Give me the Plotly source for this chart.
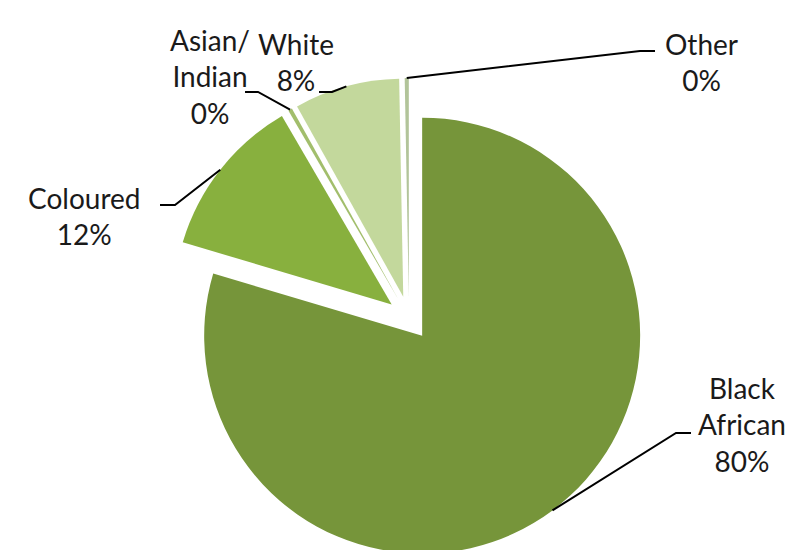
import math
import plotly.graph_objects as go

# ---- data ----
labels = ["Black African", "Coloured", "Asian/ Indian", "White", "Other"]
values = [79.6, 12.0, 0.3, 7.8, 0.3]
text_lines = [["Black", "African"], ["Coloured"], ["Asian/", "Indian"], ["White"], ["Other"]]
colors = ["#76953A", "#88B03E", "#A2BE6C", "#C3D89C", "#B2C49A"]

# ---- layout constants ----
W, H = 793, 550
CX, CY = 401, 310          # pie centre (px)
HALF = 240                 # half size of pie domain (px)
PULL = 0.101
FONT = dict(family="Lato, 'Open Sans', sans-serif", size=28, color="#1a1a1a")

# label placement: text centre, stub points (px)
label_cfg = {
    "Black African": dict(text=(734, 416), stub=[(683, 425), (668, 425)]),
    "Coloured":      dict(text=(76, 208),  stub=[(152, 197), (167, 197)]),
    "Asian/ Indian": dict(text=(202, 68),  stub=[(237, 84), (250, 84)]),
    "White":         dict(text=(288, 54),  stub=[(311, 84), (324, 84)]),
    "Other":         dict(text=(693, 54),  stub=[(647, 43), (632, 43)]),
}

dom_x = [(CX - HALF) / W, (CX + HALF) / W]
dom_y = [1 - (CY + HALF) / H, 1 - (CY - HALF) / H]

fig = go.Figure(go.Pie(
    labels=labels, values=values, sort=False, direction="clockwise", rotation=0,
    pull=[PULL] * len(values), textinfo="none", hoverinfo="label+percent",
    marker=dict(colors=colors, line=dict(width=0)),
    domain=dict(x=dom_x, y=dom_y), showlegend=False,
))

# leader lines computed from slice bisectors
total = sum(values)
r = HALF / (1 + PULL)
cum = 0.0
shapes, annotations = [], []
def px2paper(p):
    return p[0] / W, 1 - p[1] / H
for lab, v, lines in zip(labels, values, text_lines):
    mid = (cum + v / 2) / total * 2 * math.pi
    cum += v
    dist = r * (1 + PULL)
    arc = (CX + dist * math.sin(mid), CY - dist * math.cos(mid))
    cfg = label_cfg[lab]
    pts = cfg["stub"] + [arc]
    path = "M " + " L ".join("%.4f,%.4f" % px2paper(p) for p in pts)
    shapes.append(dict(type="path", path=path, xref="paper", yref="paper",
                       line=dict(color="black", width=2)))
    pct = round(v / total * 100)
    txt = "<br>".join(lines + ["%d%%" % pct])
    tx, ty = px2paper(cfg["text"])
    annotations.append(dict(text=txt, x=tx, y=ty, xref="paper", yref="paper",
                            xanchor="center", yanchor="middle", showarrow=False,
                            font=FONT, align="center"))

fig.update_layout(width=W, height=H, margin=dict(l=0, r=0, t=0, b=0),
                  paper_bgcolor="white", plot_bgcolor="white",
                  shapes=shapes, annotations=annotations)
fig.write_html("out.html")
